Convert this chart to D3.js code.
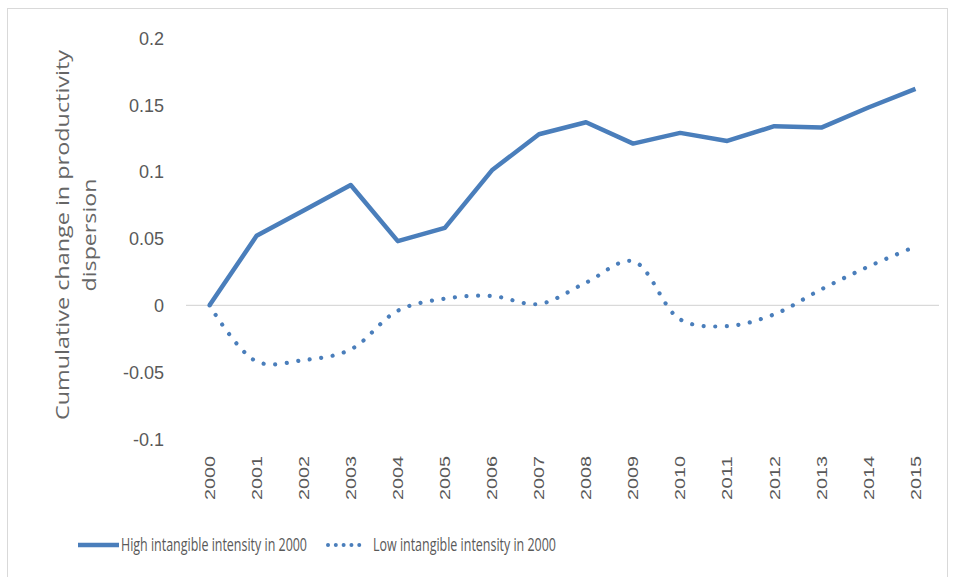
<!DOCTYPE html>
<html>
<head>
<meta charset="utf-8">
<script src="https://cdn.jsdelivr.net/npm/d3@7"></script>
<style>
  html, body { margin: 0; padding: 0; background: #fff; }
  svg { display: block; font-family: "Open Sans", "Noto Sans", sans-serif; }
</style>
</head>
<body>
<div id="chart"></div>
<script>
// data
const years = ['2000', '2001', '2002', '2003', '2004', '2005', '2006', '2007',
  '2008', '2009', '2010', '2011', '2012', '2013', '2014', '2015'];
const highIntangible = [0, 0.052, 0.071, 0.090, 0.048, 0.058, 0.101, 0.128,
  0.137, 0.121, 0.129, 0.123, 0.134, 0.133, 0.148, 0.162];
const lowIntangible = [0, -0.042, -0.041, -0.033, -0.004, 0.005, 0.007, 0.001,
  0.017, 0.033, -0.0105, -0.0155, -0.0067, 0.012, 0.029, 0.044];
const yTicks = [0.2, 0.15, 0.1, 0.05, 0, -0.05, -0.1];
const seriesNames = ['High intangible intensity in 2000', 'Low intangible intensity in 2000'];

// layout
const fullWidth = 954;
const fullHeight = 577;
const plot = { left: 186, right: 939, top: 38, bottom: 439 };
const blue = '#4a7ebb';
const grey = '#595959';

const svg = d3.select('#chart').append('svg')
  .attr('width', fullWidth)
  .attr('height', fullHeight);

// chart border
svg.append('rect')
  .attr('x', 7.5).attr('y', 8.5)
  .attr('width', 940).attr('height', 600)
  .attr('fill', 'none')
  .attr('stroke', '#d9d9d9');

const x = d3.scaleBand().domain(years).range([plot.left, plot.right]).padding(0);
const xc = d => x(d) + x.bandwidth() / 2;
const y = d3.scaleLinear().domain([-0.1, 0.2]).range([plot.bottom, plot.top]);

// zero line
svg.append('line')
  .attr('x1', plot.left).attr('x2', plot.right)
  .attr('y1', y(0)).attr('y2', y(0))
  .attr('stroke', '#d9d9d9')
  .attr('stroke-width', 1.3);

// y axis labels
const yAxis = d3.axisLeft(y).tickValues(yTicks).tickSize(0).tickPadding(0)
  .tickFormat(d => d === 0 ? '0' : String(d));
svg.append('g')
  .attr('transform', 'translate(164,0)')
  .call(yAxis)
  .call(g => g.select('.domain').remove())
  .selectAll('text')
  .attr('fill', grey)
  .style('font-size', '18px')
  .attr('dy', '0.35em');

// x axis labels
const xAxis = d3.axisBottom(x).tickSize(0).tickPadding(0);
svg.append('g')
  .attr('transform', 'translate(0,456)')
  .call(xAxis)
  .call(g => g.select('.domain').remove())
  .selectAll('text')
  .attr('fill', grey)
  .style('font-size', '15px')
  .attr('transform', 'rotate(-90)')
  .attr('text-anchor', 'end')
  .attr('x', 0)
  .attr('y', 0)
  .attr('dy', '0.35em')
  .attr('textLength', 44)
  .attr('lengthAdjust', 'spacingAndGlyphs');

// y axis title
const yTitle = svg.append('text')
  .attr('transform', 'translate(63,235) rotate(-90)')
  .attr('text-anchor', 'middle')
  .attr('fill', '#666')
  .style('font-size', '18px');
yTitle.append('tspan').attr('x', 0).attr('dy', '0.35em')
  .attr('textLength', 370).attr('lengthAdjust', 'spacingAndGlyphs')
  .text('Cumulative change in productivity');
yTitle.append('tspan').attr('x', 0).attr('dy', '27')
  .attr('textLength', 113).attr('lengthAdjust', 'spacingAndGlyphs')
  .text('dispersion');

// lines
const highLine = d3.line()
  .x((d, i) => xc(years[i]))
  .y(d => y(d));

const lowLine = d3.line()
  .x((d, i) => xc(years[i]))
  .y(d => y(d))
  .curve(d3.curveCatmullRom.alpha(0.5));

svg.append('path')
  .datum(highIntangible)
  .attr('d', highLine)
  .attr('fill', 'none')
  .attr('stroke', blue)
  .attr('stroke-width', 4.5)
  .attr('stroke-linejoin', 'round');

svg.append('path')
  .datum(lowIntangible)
  .attr('d', lowLine)
  .attr('fill', 'none')
  .attr('stroke', blue)
  .attr('stroke-width', 4.2)
  .attr('stroke-linecap', 'round')
  .attr('stroke-dasharray', '0.01 11.6');

// legend
const legend = svg.append('g').attr('transform', 'translate(0,545)');
legend.append('line')
  .attr('x1', 78).attr('x2', 119).attr('y1', 0).attr('y2', 0)
  .attr('stroke', blue).attr('stroke-width', 4.5);
legend.append('text')
  .attr('x', 121).attr('y', 0).attr('dy', '0.35em')
  .attr('fill', grey).style('font-size', '17.5px')
  .attr('textLength', 186).attr('lengthAdjust', 'spacingAndGlyphs')
  .text(seriesNames[0]);
legend.append('line')
  .attr('x1', 328).attr('x2', 367).attr('y1', 0).attr('y2', 0)
  .attr('stroke', blue).attr('stroke-width', 4)
  .attr('stroke-linecap', 'round')
  .attr('stroke-dasharray', '0.01 7.8');
legend.append('text')
  .attr('x', 373).attr('y', 0).attr('dy', '0.35em')
  .attr('fill', grey).style('font-size', '17.5px')
  .attr('textLength', 183).attr('lengthAdjust', 'spacingAndGlyphs')
  .text(seriesNames[1]);
</script>
</body>
</html>
